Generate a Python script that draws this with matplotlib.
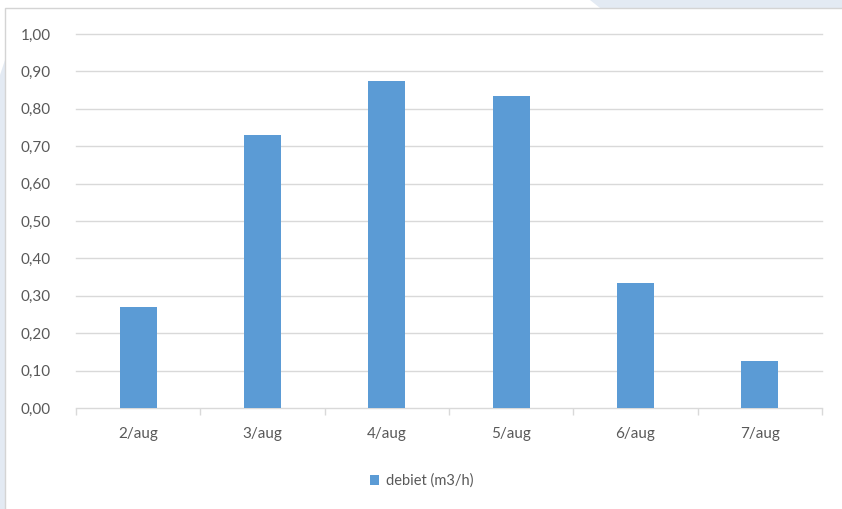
import matplotlib.pyplot as plt
from matplotlib.patches import Polygon, Rectangle

# daily flow values
days = ["2/aug", "3/aug", "4/aug", "5/aug", "6/aug", "7/aug"]
debiet = [0.27, 0.73, 0.875, 0.835, 0.335, 0.125]
yticks = [0.0, 0.1, 0.2, 0.3, 0.4, 0.5, 0.6, 0.7, 0.8, 0.9, 1.0]

plt.rcParams['font.family'] = ['Lato', 'DejaVu Sans']

W, H = 842, 509
fig = plt.figure(figsize=(W / 100, H / 100), dpi=100)
fig.patch.set_facecolor('white')

# light blue backdrop pieces at the edges
shade = '#e3eaf3'
fig.patches.append(Polygon([(0, 0), (5 / W, 0), (5 / W, 1 - 60 / H), (0, 1 - 75 / H)],
                           closed=True, transform=fig.transFigure,
                           facecolor=shade, edgecolor='none', zorder=-5))
fig.patches.append(Polygon([(590 / W, 1), (1, 1), (1, 1 - 8 / H), (600 / W, 1 - 8 / H)],
                           closed=True, transform=fig.transFigure,
                           facecolor=shade, edgecolor='none', zorder=-5))
# chart area border
fig.patches.append(Rectangle((5 / W, -0.1), 1.1, 1.1 - 8 / H, transform=fig.transFigure,
                             facecolor='white', edgecolor='#d4d4d4', linewidth=1.0, zorder=-4))

ax = fig.add_axes([76 / W, 101 / H, (822 - 76) / W, (408 - 34) / H])
ax.set_facecolor('none')

x = range(len(days))
ax.bar(x, debiet, width=0.3, color='#5b9bd5', zorder=3, label='debiet (m3/h)')

ax.set_xlim(-0.5, len(days) - 0.5)
ax.set_ylim(0, 1.0)
ax.set_yticks(yticks)
ax.set_yticklabels([f"{v:.2f}".replace('.', ',') for v in yticks])
ax.set_xticks(list(x))
ax.set_xticklabels(days)

for v in yticks[1:]:
    ax.axhline(v, color='#d9d9d9', linewidth=1.0, zorder=1, clip_on=False)

for s in ['top', 'right', 'left']:
    ax.spines[s].set_visible(False)
ax.spines['bottom'].set_color('#d9d9d9')
ax.spines['bottom'].set_linewidth(1.0)

ax.tick_params(axis='y', length=0, pad=18, labelsize=11, labelcolor='#595959')
ax.tick_params(axis='x', length=0, pad=14, labelsize=11, labelcolor='#595959')
# tick marks between categories
ax.set_xticks([i - 0.5 for i in range(len(days) + 1)], minor=True)
ax.tick_params(axis='x', which='minor', length=5, width=1.0, color='#d9d9d9', direction='out')

fig.legend(loc='center', bbox_to_anchor=(422 / W, 1 - 481 / H), frameon=False,
           handlelength=0.6, handleheight=0.6, handletextpad=0.5,
           prop={'size': 10.5}, labelcolor='#595959')

fig.savefig('out.png', dpi=100)
